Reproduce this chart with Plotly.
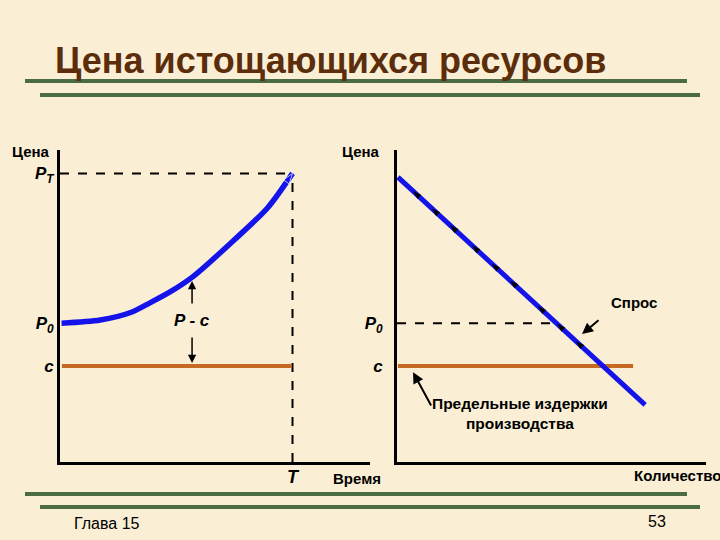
import numpy as np
import plotly.graph_objects as go

# ---------------- data ----------------
# left panel: price of exhaustible resource over time
time_pts = [0.05, 1.3, 2.3, 2.9, 3.55, 4.3, 5.6, 6.7, 7.5]
price_path = [4.45, 4.55, 4.8, 5.1, 5.45, 5.95, 7.1, 8.15, 9.25]
T_exhaust = 7.5
P0 = 4.45
PT = 9.25
c_cost = 3.08
mc_left_span = [0.06, 7.48]
pc_x = 4.26
pc_up = [5.03, 5.8]
pc_down = [4.04, 3.17]

# right panel: demand and marginal cost
demand_q = [0.03, 8.03]
demand_p = [9.13, 1.83]
arrow_q = [0.52, 1.13, 1.72, 2.43, 3.07, 3.66, 4.56, 5.18, 5.79]
mc_right_span = [0.03, 7.64]
p0_dash_end = 5.17
spros_arrow = {"head": (5.99, 4.10), "tail": (6.57, 4.58)}
mc_arrow = {"head": (0.52, 2.88), "tail": (1.13, 1.76)}

left_ticks = [c_cost, P0, PT]
left_ticktext = ["<b><i>c</i></b>", "<b><i>P<sub>0</sub></i></b>", "<b><i>P<sub>T</sub></i></b>"]
right_ticks = [c_cost, P0]
right_ticktext = ["<b><i>c</i></b>", "<b><i>P<sub>0</sub></i></b>"]

# ---------------- style ----------------
W, H = 720, 540
BG = "#FAEFD5"
BLUE = "#1414EA"
ORANGE = "#C66A22"
GREEN = "#4B6B45"
BROWN = "#5C2D0B"
FONT = "Liberation Sans"


def px(x):
    return x / W


def py(y):
    return 1 - y / H


fig = go.Figure()

# left panel
fig.add_trace(go.Scatter(x=[0, T_exhaust], y=[PT, PT], mode="lines",
                         line=dict(color="black", width=2, dash="dash"),
                         xaxis="x", yaxis="y", hoverinfo="skip"))
fig.add_trace(go.Scatter(x=[T_exhaust, T_exhaust], y=[0, PT], mode="lines",
                         line=dict(color="black", width=2, dash="dash"),
                         xaxis="x", yaxis="y", hoverinfo="skip"))
fig.add_trace(go.Scatter(x=mc_left_span, y=[c_cost, c_cost], mode="lines",
                         line=dict(color=ORANGE, width=4),
                         xaxis="x", yaxis="y", hoverinfo="skip"))
fig.add_trace(go.Scatter(x=time_pts, y=price_path, mode="lines",
                         line=dict(color=BLUE, width=5.5, shape="spline", smoothing=0.8),
                         xaxis="x", yaxis="y", hoverinfo="skip"))
fig.add_trace(go.Scatter(x=time_pts[-2:], y=price_path[-2:], mode="markers",
                         marker=dict(symbol="arrow", size=[0, 11], color=BLUE,
                                     angleref="previous"),
                         xaxis="x", yaxis="y", hoverinfo="skip"))

# right panel
fig.add_trace(go.Scatter(x=[0, p0_dash_end], y=[P0, P0], mode="lines",
                         line=dict(color="black", width=2, dash="dash"),
                         xaxis="x2", yaxis="y2", hoverinfo="skip"))
fig.add_trace(go.Scatter(x=mc_right_span, y=[c_cost, c_cost], mode="lines",
                         line=dict(color=ORANGE, width=4),
                         xaxis="x2", yaxis="y2", hoverinfo="skip"))
fig.add_trace(go.Scatter(x=demand_q, y=demand_p, mode="lines",
                         line=dict(color=BLUE, width=5),
                         xaxis="x2", yaxis="y2", hoverinfo="skip"))
arrow_p = np.interp(arrow_q, demand_q, demand_p)
fig.add_trace(go.Scatter(x=arrow_q, y=arrow_p, mode="markers",
                         marker=dict(symbol="arrow", size=9, color="black", angle=-47),
                         xaxis="x2", yaxis="y2", hoverinfo="skip"))

ann = []


def arrow(head, tail, xr, yr, w=1.5):
    ann.append(dict(x=head[0], y=head[1], ax=tail[0], ay=tail[1], xref=xr, yref=yr,
                    axref=xr, ayref=yr, text="", showarrow=True, arrowhead=2,
                    arrowsize=1.1, arrowwidth=w, arrowcolor="black", standoff=0,
                    startstandoff=0))


arrow((pc_x, pc_up[1]), (pc_x, pc_up[0]), "x", "y")
arrow((pc_x, pc_down[1]), (pc_x, pc_down[0]), "x", "y")
arrow(spros_arrow["head"], spros_arrow["tail"], "x2", "y2", 2)
arrow(mc_arrow["head"], mc_arrow["tail"], "x2", "y2", 2)

ann.append(dict(x=pc_x, y=(pc_up[0] + pc_down[0]) / 2, xref="x", yref="y",
                text="<b><i>P - c</i></b>", showarrow=False,
                font=dict(family=FONT, size=17, color="black")))


def label(text, x, y, size=15, anchor="center", color="black", bold=True):
    t = f"<b>{text}</b>" if bold else text
    ann.append(dict(x=px(x), y=py(y), xref="paper", yref="paper", text=t,
                    showarrow=False, xanchor=anchor, yanchor="middle",
                    font=dict(family=FONT, size=size, color=color)))


label("Цена истощающихся ресурсов", 53, 60, size=36, anchor="left", color=BROWN)
label("Цена", 52, 152, anchor="right")
label("Цена", 382, 152, anchor="right")
label("Время", 357, 478)
label("Количество", 632, 475, anchor="left")
label("Спрос", 634, 302)
ann.append(dict(x=px(520), y=py(413), xref="paper", yref="paper",
                text="<b>Предельные издержки<br>производства</b>", showarrow=False,
                xanchor="center", yanchor="middle", align="center",
                font=dict(family=FONT, size=15.5, color="black")))
label("Глава 15", 107, 523, size=16, bold=False)
label("53", 657, 521, size=16, bold=False)

shapes = []
for (x0, x1, y) in [(25, 687, 81), (40, 700, 95), (25, 687, 494), (40, 700, 507)]:
    shapes.append(dict(type="line", xref="paper", yref="paper", x0=px(x0), x1=px(x1),
                       y0=py(y), y1=py(y), line=dict(color=GREEN, width=4)))

axis_common = dict(showgrid=False, zeroline=False, showline=True, linecolor="black",
                   linewidth=3, range=[0, 10], fixedrange=True, ticks="")

fig.update_layout(
    width=W, height=H, autosize=False,
    margin=dict(l=0, r=0, t=0, b=0),
    paper_bgcolor=BG, plot_bgcolor=BG,
    showlegend=False,
    xaxis=dict(domain=[px(60), px(370)], anchor="y",
               tickvals=[T_exhaust], ticktext=["<b><i>T</i></b>"], ticklabelstandoff=-4,
               tickfont=dict(family=FONT, size=18, color="black"), **axis_common),
    yaxis=dict(domain=[py(462), py(150)], anchor="x",
               tickvals=left_ticks, ticktext=left_ticktext,
               tickfont=dict(family=FONT, size=17, color="black"), **axis_common),
    xaxis2=dict(domain=[px(397), px(706)], anchor="y2", showticklabels=False,
                **axis_common),
    yaxis2=dict(domain=[py(462), py(150)], anchor="x2",
                tickvals=right_ticks, ticktext=right_ticktext, ticklabelstandoff=8,
                tickfont=dict(family=FONT, size=17, color="black"), **axis_common),
    annotations=ann,
    shapes=shapes,
)

fig.write_html(
    "out.html",
    config={"displayModeBar": False},
    post_script="document.body.style.margin='0';document.body.style.background='" + BG + "';",
)
